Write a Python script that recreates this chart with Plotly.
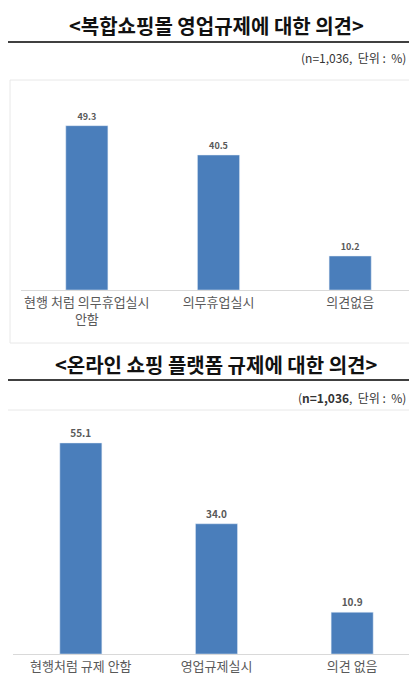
import plotly.graph_objects as go

cats1 = ["현행 처럼 의무휴업실시<br>안함", "의무휴업실시", "의견없음"]
vals1 = [49.3, 40.5, 10.2]
cats2 = ["현행처럼 규제 안함", "영업규제실시", "의견 없음"]
vals2 = [55.1, 34.0, 10.9]
title1 = "<복합쇼핑몰 영업규제에 대한 의견>"
title2 = "<온라인 쇼핑 플랫폼 규제에 대한 의견>"
note1 = "(n=1,036,  단위 :  %)"
note2 = "(<b>n=1,036</b>,  단위 :  %)"

H, W = 680, 417
def py(p): return 1 - p / H
def px(p): return p / W

BAR = "#4a7ebb"
FONT = "Noto Sans CJK KR"
fig = go.Figure()
fig.add_trace(go.Bar(x=cats1, y=vals1, marker_color=BAR, text=[f"<b>{v:.1f}</b>" for v in vals1],
                     textposition="outside", textfont=dict(size=9, color="#595959", family=FONT),
                     xaxis="x", yaxis="y", cliponaxis=False, width=0.32))
fig.add_trace(go.Bar(x=cats2, y=vals2, marker_color=BAR, text=[f"<b>{v:.1f}</b>" for v in vals2],
                     textposition="outside", textfont=dict(size=10, color="#595959", family=FONT),
                     xaxis="x2", yaxis="y2", cliponaxis=False, width=0.31))

ax = dict(showgrid=False, showline=True, linecolor="#d9d9d9", linewidth=1, ticks="",
          tickfont=dict(size=13, color="#595959", family=FONT), fixedrange=True)
yx = dict(visible=False, showgrid=False, fixedrange=True)
fig.update_layout(
    width=W, height=H, margin=dict(l=0, r=0, t=0, b=0),
    paper_bgcolor="white", plot_bgcolor="white", showlegend=False,
    font=dict(family=FONT),
    xaxis=dict(ax, domain=[px(13), px(408)], anchor="y"),
    yaxis=dict(yx, domain=[py(282), py(72)], range=[0, 63], anchor="x"),
    xaxis2=dict(ax, domain=[px(5), px(412)], anchor="y2"),
    yaxis2=dict(yx, domain=[py(646), py(402)], range=[0, 63.7], anchor="x2"),
)

shapes = []
for t in (34, 372):
    shapes.append(dict(type="line", xref="paper", yref="paper", x0=0, x1=1, y0=py(t), y1=py(t),
                       line=dict(color="#404040", width=2)))
shapes.append(dict(type="rect", xref="paper", yref="paper", x0=px(2), x1=px(414), y0=py(335), y1=py(72),
                   line=dict(color="#e8e8e8", width=1)))
shapes.append(dict(type="line", xref="paper", yref="paper", x0=0, x1=1, y0=py(402), y1=py(402),
                   line=dict(color="#e8e8e8", width=1)))
fig.update_layout(shapes=shapes)

ann = [
    dict(text=f"<b>{title1}</b>", x=0.5, y=py(17), font=dict(size=20, color="#111")),
    dict(text=f"<b>{title2}</b>", x=0.5, y=py(356), font=dict(size=20, color="#111")),
    dict(text=note1, x=px(400), y=py(50), xanchor="right", font=dict(size=12, color="#333")),
    dict(text=note2, x=px(400), y=py(389), xanchor="right", font=dict(size=12, color="#333")),
]
for a in ann:
    a.update(xref="paper", yref="paper", showarrow=False, yanchor="middle")
    a.setdefault("xanchor", "center")
fig.update_layout(annotations=ann)

fig.write_html("out.html")
